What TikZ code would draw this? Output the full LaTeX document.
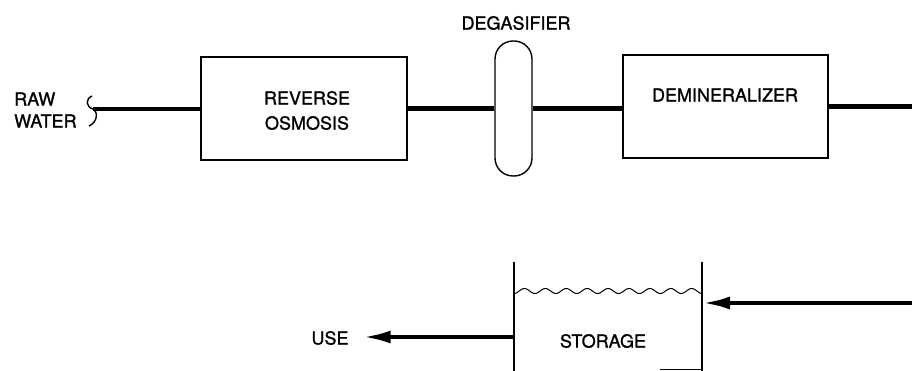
\documentclass[tikz,border=0pt]{standalone}
\usepackage{fontspec}
\setmainfont{TeX Gyre Heros}
\newfontfamily\lettering{TeX Gyre Heros}[FakeBold=1.2]
\usetikzlibrary{arrows.meta}
\begin{document}
\begin{tikzpicture}[x=1pt,y=-1pt,
  txt/.style={font=\lettering\fontsize{18}{25}\selectfont, inner sep=0pt, align=center},
  unit/.style={draw, line width=1.4pt, inner sep=0pt},
  wall/.style={line width=1.4pt},
  pipe/.style={line width=4.2pt},
  flow/.style={pipe, -{Latex[length=28pt,width=13pt]}}]
\useasboundingbox (0,0) rectangle (912,371);
% units
\node[unit, minimum width=206pt, minimum height=103pt] (ro) at (304,108.5) {};
\node[txt] (rotext) at (307,110.5) {REVERSE\\OSMOSIS};
\node[unit, rounded corners=18pt, minimum width=37pt, minimum height=135pt] (deg) at (513.5,108.5) {};
\node[txt] (degl) at (516,23) {DEGASIFIER};
\node[unit, minimum width=205pt, minimum height=103pt] (dm) at (725.5,106.5) {};
\node[txt] (dml) at (725,95) {DEMINERALIZER};
\node[txt, align=left, anchor=west, font=\lettering\fontsize{18}{22}\selectfont] (raw) at (14,110) {RAW\\WATER};
% raw water inlet break
\coordinate (brk) at (93,109);
\draw[line width=1.4pt] (92,96) .. controls (85,99) and (86,107) .. (brk)
  .. controls (98,111) and (98,122) .. (89,126);
\coordinate (outA) at (912,105);
\draw[pipe] (brk) -- (brk -| ro.west);
\draw[pipe] (ro.east) -- (ro.east -| deg.west);
\draw[pipe] (deg.east) -- (deg.east -| dm.west);
\draw[pipe] (dm.east) -- (dm.east -| outA);
% storage tank
\coordinate (tl) at (514,262);
\coordinate (tr) at (702,262);
\coordinate (bl) at (514,371);
\coordinate (br) at (702,371);
\draw[wall] (tl) -- (bl);
\draw[wall] (tr) -- (br);
\draw[line width=1pt] plot[domain=0:188, samples=200, smooth] ({\x+514}, {291+2.5*cos(\x*17.22)});
\draw[line width=1pt] (660,369) -- (702,369);
\node[txt] (st) at (603,341) {STORAGE};
\node[txt] (use) at (330,338) {USE};
\coordinate (inR) at (912,303);
\coordinate (useIn) at (514,337);
\draw[flow] (inR) -- (inR -| tr);
\draw[flow, shorten >=14pt] (useIn) -- (useIn -| use.east);
\end{tikzpicture}
\end{document}
